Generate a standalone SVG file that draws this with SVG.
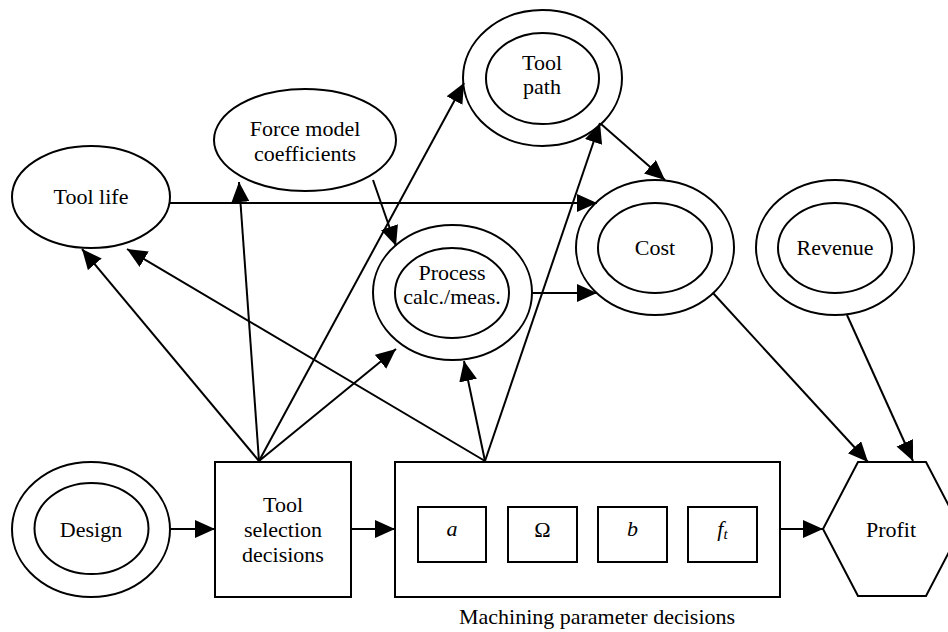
<svg xmlns="http://www.w3.org/2000/svg" width="948" height="632" viewBox="0 0 948 632">
<style>
.s{fill:none;stroke:#000;stroke-width:2}
.w{fill:#fff;stroke:#000;stroke-width:2}
.e{fill:none;stroke:#000;stroke-width:2;marker-end:url(#ah)}
text{font-family:"Liberation Serif","Times New Roman",serif;font-size:22px;fill:#000;text-anchor:middle}
.i{font-style:italic}
</style>
<defs>
<marker id="ah" markerUnits="userSpaceOnUse" markerWidth="22" markerHeight="20" refX="20" refY="9" orient="auto" viewBox="0 0 22 20">
<path d="M0,0 L20,9 L0,18 z" fill="#000"/>
</marker>
</defs>
<rect width="948" height="632" fill="#fff"/>
<g id="connectors">
<line class="e" x1="170" y1="529" x2="215" y2="529"/>
<line class="e" x1="351" y1="529" x2="395" y2="529"/>
<line class="e" x1="780" y1="529" x2="823" y2="529"/>
<line class="e" x1="259" y1="461" x2="82" y2="249"/>
<line class="e" x1="485" y1="461" x2="127" y2="249"/>
<line class="e" x1="259" y1="461" x2="239" y2="182"/>
<line class="e" x1="259" y1="461" x2="464" y2="83"/>
<line class="e" x1="259" y1="461" x2="396" y2="349"/>
<line class="e" x1="485" y1="461" x2="464" y2="361"/>
<line class="e" x1="485" y1="461" x2="600" y2="123"/>
<line class="e" x1="170" y1="203" x2="597" y2="203"/>
<line class="e" x1="532" y1="293" x2="597" y2="293"/>
<line class="e" x1="373" y1="180" x2="396" y2="246"/>
<line class="e" x1="601" y1="124" x2="665" y2="180"/>
<line class="e" x1="713" y1="293" x2="868" y2="462"/>
<line class="e" x1="847" y1="315" x2="913" y2="461"/>
</g>
<g id="tool-life">
<ellipse class="s" cx="91" cy="197" rx="79" ry="51"/>
<text x="91" y="204">Tool life</text>
</g>
<g id="force-model">
<ellipse class="s" cx="305" cy="140" rx="91" ry="51"/>
<text x="305" y="136">Force model</text>
<text x="305" y="161">coefficients</text>
</g>
<g id="tool-path">
<ellipse class="s" cx="542.5" cy="78" rx="79.5" ry="68"/>
<ellipse class="s" cx="542.5" cy="78.5" rx="56.5" ry="45.5"/>
<text x="542" y="70">Tool</text>
<text x="542" y="94">path</text>
</g>
<g id="process">
<ellipse class="s" cx="452.5" cy="292.5" rx="79.5" ry="67.5"/>
<ellipse class="s" cx="452" cy="293" rx="57" ry="45"/>
<text x="452" y="280">Process</text>
<text x="452" y="304">calc./meas.</text>
</g>
<g id="cost">
<ellipse class="s" cx="655" cy="247.5" rx="79" ry="67.5"/>
<ellipse class="s" cx="655" cy="248" rx="57" ry="45"/>
<text x="655" y="255">Cost</text>
</g>
<g id="revenue">
<ellipse class="s" cx="835" cy="247.5" rx="79" ry="67.5"/>
<ellipse class="s" cx="835" cy="248" rx="57" ry="45"/>
<text x="835" y="255">Revenue</text>
</g>
<g id="design">
<ellipse class="s" cx="91" cy="529.5" rx="79" ry="67.5"/>
<ellipse class="s" cx="91.5" cy="528.5" rx="57" ry="45.5"/>
<text x="91" y="537">Design</text>
</g>
<g id="tool-selection">
<rect class="s" x="215" y="462" width="136" height="135"/>
<text x="283" y="512">Tool</text>
<text x="283" y="537">selection</text>
<text x="283" y="562">decisions</text>
</g>
<g id="machining">
<rect class="s" x="395" y="462" width="385" height="135"/>
<rect class="s" x="418" y="507" width="68" height="55"/>
<rect class="s" x="508" y="507" width="69" height="55"/>
<rect class="s" x="598" y="507" width="69" height="55"/>
<rect class="s" x="688" y="507" width="69" height="55"/>
<text class="i" x="452" y="536">a</text>
<text x="542.5" y="537">Ω</text>
<text class="i" x="632.5" y="536">b</text>
<text class="i" x="722.5" y="536">f<tspan font-size="15" dy="3">t</tspan></text>
<text x="597" y="624">Machining parameter decisions</text>
</g>
<g id="profit">
<polygon class="s" points="823,529 858,462 926,462 961,529 926,596 858,596"/>
<text x="891" y="537">Profit</text>
</g>
</svg>
